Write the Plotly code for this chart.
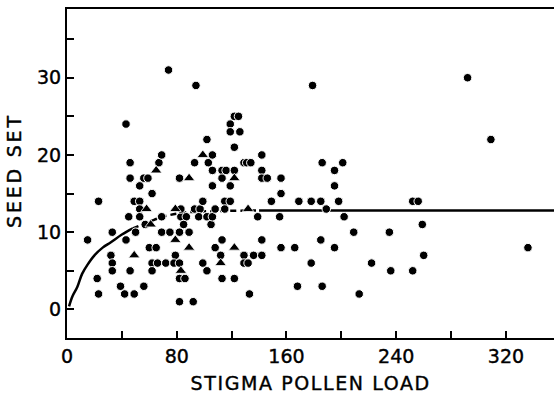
import plotly.graph_objects as go

# Circles (stigma pollen load, seed set)
circle_x = [15, 23, 22, 23, 33, 32, 33, 33, 39, 42, 43, 43, 46, 46, 46, 45, 49, 49, 53, 50,
            53, 53, 53, 56, 59, 56, 57, 60, 62, 62, 62, 66, 65, 67, 69, 69, 69, 72, 74, 75,
            79, 78, 82, 82, 82, 82, 86, 82, 83, 87, 85, 83, 89, 92, 93, 94, 93, 97, 96, 99,
            99, 102, 103, 102, 102, 106, 106, 106, 105, 106, 108, 108, 113, 112, 113, 113, 116, 113, 115, 119,
            115, 119, 119, 119, 122, 122, 122, 125, 126, 122, 129, 131, 134, 129, 129, 132, 133, 136, 139, 142,
            142, 142, 146, 142, 142, 149, 156, 156, 155, 156, 166, 168, 169, 179, 178, 178, 185, 186, 185, 186,
            189, 195, 195, 195, 198, 201, 202, 209, 213, 222, 235, 236, 252, 256, 252, 259, 260, 292, 309, 336]
circle_y = [9, 14, 4, 2, 10, 7, 6, 5, 3, 2, 24, 9, 5, 19, 17, 12, 2, 14, 14, 10,
            16, 13, 12, 17, 17, 3, 11, 8, 15, 6, 5, 6, 8, 19, 20, 12, 10, 6, 31, 10,
            7, 6, 17, 10, 6, 4, 4, 1, 12, 12, 11, 13, 10, 1, 19, 29, 13, 13, 12, 14,
            6, 22, 19, 12, 5, 20, 18, 16, 11, 12, 13, 8, 9, 7, 4, 18, 18, 17, 14, 14,
            13, 24, 23, 16, 18, 21, 25, 25, 23, 4, 19, 19, 19, 7, 6, 6, 2, 7, 12, 20,
            18, 17, 17, 9, 7, 14, 17, 15, 12, 8, 8, 3, 14, 29, 14, 6, 14, 19, 9, 3,
            13, 18, 16, 8, 14, 19, 12, 10, 2, 6, 10, 5, 14, 14, 5, 11, 7, 30, 22, 8]

# Triangles
tri_x = [49, 58, 61, 65, 79, 79, 83, 89, 89, 99, 112, 122, 122, 132]
tri_y = [7, 13, 11, 18, 13, 9, 5, 17, 8, 20, 6, 17, 8, 13]

# Fitted curve
fit_solid_x = [1.5, 4, 7.5, 11, 15, 20, 26, 32, 40, 48]
fit_solid_y = [0.4, 1.7, 2.9, 4.6, 5.8, 7.0, 8.0, 8.7, 9.7, 10.5]
fit_dash_x = [48, 55, 62, 70, 80, 90, 100, 115, 130, 140]
fit_dash_y = [10.5, 11.0, 11.5, 12.0, 12.4, 12.6, 12.7, 12.75, 12.8, 12.8]
fit_flat_x = [140, 355]
fit_flat_y = [12.8, 12.8]

x_ticks = [0, 40, 80, 120, 160, 200, 240, 280, 320]
x_labels = ["0", "", "80", "", "160", "", "240", "", "320"]
y_ticks = [0, 5, 10, 15, 20, 25, 30, 35]
y_labels = ["0", "", "10", "", "20", "", "30", ""]

x_title = "STIGMA POLLEN LOAD"
y_title = "SEED SET"

FONT = "DejaVu Sans"

fig = go.Figure()
fig.add_trace(go.Scatter(x=fit_solid_x, y=fit_solid_y, mode="lines",
                         line=dict(color="black", width=2.5, shape="spline"), hoverinfo="skip"))
fig.add_trace(go.Scatter(x=fit_dash_x, y=fit_dash_y, mode="lines",
                         line=dict(color="black", width=2.5, shape="spline", dash="6px,4px"), hoverinfo="skip"))
fig.add_trace(go.Scatter(x=fit_flat_x, y=fit_flat_y, mode="lines",
                         line=dict(color="black", width=2.5), hoverinfo="skip"))
fig.add_trace(go.Scatter(x=circle_x, y=circle_y, mode="markers",
                         marker=dict(symbol="circle", size=8.5, color="black",
                                     line=dict(color="white", width=1))))
fig.add_trace(go.Scatter(x=tri_x, y=tri_y, mode="markers",
                         marker=dict(symbol="triangle-up", size=10, color="black",
                                     line=dict(color="white", width=0.8))))

fig.update_layout(
    template="none",
    width=554, height=393,
    margin=dict(l=67, r=0, t=9, b=55, autoexpand=False),
    paper_bgcolor="white", plot_bgcolor="white",
    showlegend=False,
    font=dict(family=FONT, color="black", size=19),
    xaxis=dict(range=[0, 355], tickmode="array", tickvals=x_ticks, ticktext=x_labels,
               ticks="inside", ticklen=7, tickwidth=1.5, tickcolor="black",
               showline=True, linewidth=2, linecolor="black", mirror=True,
               showgrid=False, zeroline=False, automargin=False,
               tickfont=dict(family=FONT, size=19, color="black")),
    yaxis=dict(range=[-3.7, 38.9], tickmode="array", tickvals=y_ticks, ticktext=y_labels,
               ticks="inside", ticklen=7, tickwidth=1.5, tickcolor="black",
               showline=True, linewidth=2, linecolor="black",
               showgrid=False, zeroline=False, automargin=False,
               tickfont=dict(family=FONT, size=19, color="black")),
    annotations=[
        dict(text=x_title, xref="paper", yref="paper", x=0.5, y=-0.137,
             xanchor="center", yanchor="middle", showarrow=False,
             font=dict(family=FONT, size=19, color="black")),
        dict(text=y_title, xref="paper", yref="paper", x=-0.109, y=0.511,
             xanchor="center", yanchor="middle", showarrow=False, textangle=-90,
             font=dict(family=FONT, size=19, color="black")),
    ],
)

post = """
document.body.style.margin='0';
document.body.style.overflow='hidden';
var anns = document.querySelectorAll('.annotation-text');
anns.forEach(function(t){
  var s = t.textContent;
  if (s.indexOf('STIGMA') >= 0) { t.style.letterSpacing = '1.6px'; }
  if (s.indexOf('SEED') >= 0) { t.style.letterSpacing = '2.8px'; }
});
document.querySelectorAll('.main-svg text').forEach(function(t){
  t.style.stroke = 'black'; t.style.strokeWidth = '0.4px';
});
"""

fig.write_html("out.html", config={"displayModeBar": False}, post_script=post)
